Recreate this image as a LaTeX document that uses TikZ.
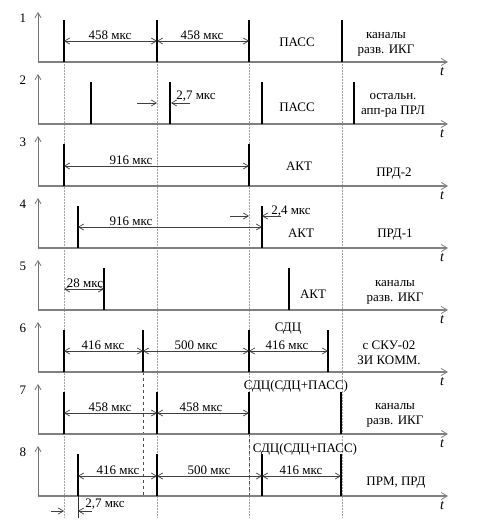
\documentclass[tikz,border=0pt]{standalone}
\usepackage{fontspec}
\setmainfont{Liberation Serif}
\usepackage{tikz}
\usetikzlibrary{arrows.meta}
\tikzset{
  haxis/.style = {draw=black!50, line width=1.5pt,
                  -{Straight Barb[length=6pt,width=7pt,line width=0.8pt]}},
  vaxis/.style = {draw=black!55, line width=0.8pt,
                  -{Straight Barb[length=5pt,width=6pt]}},
  pulse/.style = {draw=black, line width=2pt},
  dim/.style   = {draw=black!75, line width=0.7pt,
                  {Straight Barb[length=5pt,width=6pt]}-{Straight Barb[length=5pt,width=6pt]}},
  ptr/.style   = {draw=black!75, line width=0.7pt, -{Straight Barb[length=5pt,width=6pt]}},
  gridl/.style = {draw=black!35, densely dotted, line width=0.5pt},
  dashl/.style = {draw=black!70, dashed, line width=0.7pt},
  lbl/.style   = {font=\fontsize{13}{15}\selectfont, inner sep=0pt, align=center},
}

\begin{document}
\begin{tikzpicture}[x=1pt, y=-1pt]
  \useasboundingbox (0,0) rectangle (498,522);
  % vertical guides
  \foreach \x in {64,157,249,342} \draw[gridl] (\x,20) -- (\x,518);
  \draw[dashl] (143,372) -- (143,496);
  \draw[dashl] (249,433) -- (249,496);
  % axes of the eight lines
  \foreach \k in {1,...,8}{
    \pgfmathtruncatemacro\b{62*\k}
    \draw[haxis] (38,\b) -- (448,\b);
    \draw[vaxis] (38,\b) -- (38,\b-50);
    \node[lbl] (n\k) at (23,\b-44) {\k};
    \node[lbl, font=\fontsize{14}{15}\selectfont\itshape] (t\k) at (442,\b+10) {t};
  }
  % pulses
  \foreach \k/\xs in {1/{64,157,249,342}, 2/{91,170,262,354}, 3/{64,249}, 4/{78,262},
                      5/{104,289}, 6/{64,143,249,328}, 7/{64,157,249,341}, 8/{78,157,262,341}}{
    \pgfmathtruncatemacro\b{62*\k}
    \foreach \x in \xs \draw[pulse] (\x,\b) -- (\x,\b-42);
  }
  \draw[draw=black!80, line width=0.7pt] (78,496) -- (78,518);
  % intervals
  \foreach \xa/\xb/\yy/\lx/\txt in {64/157/41/110/458 мкс, 157/249/41/202/458 мкс,
      64/249/166/131/916 мкс, 78/262/227/131/916 мкс, 64/104/289/85/28 мкс,
      64/143/351/103/416 мкс, 143/249/351/196/500 мкс, 249/328/351/287/416 мкс,
      64/157/413/110/458 мкс, 157/249/413/201/458 мкс,
      78/157/476/118/416 мкс, 157/262/476/209/500 мкс, 262/341/476/301/416 мкс}{
    \draw[dim] (\xa,\yy) -- (\xb,\yy);
    \node[lbl] at (\lx,\yy-6) {\txt};
  }
  % small shifts
  \draw[ptr] (137,103) -- (157,103);
  \draw[ptr] (190,103) -- (171,103);
  \node[lbl] (d2) at (196,96) {2,7 мкс};
  \draw[ptr] (230,216) -- (249,216);
  \draw[ptr] (281,216) -- (262,216);
  \node[lbl] (d4) at (291,211) {2,4 мкс};
  \draw[ptr] (51,511) -- (64,511);
  \draw[ptr] (92,511) -- (78,511);
  \node[lbl] (d8) at (105,504) {2,7 мкс};
  % modes
  \node[lbl] (m1) at (297,42) {ПАСС};
  \node[lbl] (m2) at (297,107) {ПАСС};
  \node[lbl] (m3) at (299,166) {АКТ};
  \node[lbl] (m4) at (301,233) {АКТ};
  \node[lbl] (m5) at (313,294) {АКТ};
  \node[lbl] (m6) at (288,329) {СДЦ};
  \node[lbl] (m7) at (296,386) {СДЦ(СДЦ+ПАСС)};
  \node[lbl] (m8) at (305,449) {СДЦ(СДЦ+ПАСС)};
  % consumers
  \node[lbl] (c1) at (386,44) {каналы\\разв. ИКГ};
  \node[lbl] (c2) at (393,105) {остальн.\\апп-ра ПРЛ};
  \node[lbl] (c3) at (394,174) {ПРД-2};
  \node[lbl] (c4) at (395,235) {ПРД-1};
  \node[lbl] (c5) at (395,292) {каналы\\разв. ИКГ};
  \node[lbl] (c6) at (389,353) {с СКУ-02\\ЗИ КОММ.};
  \node[lbl] (c7) at (395,415) {каналы\\разв. ИКГ};
  \node[lbl] (c8) at (396,483) {ПРМ, ПРД};
\end{tikzpicture}
\end{document}
